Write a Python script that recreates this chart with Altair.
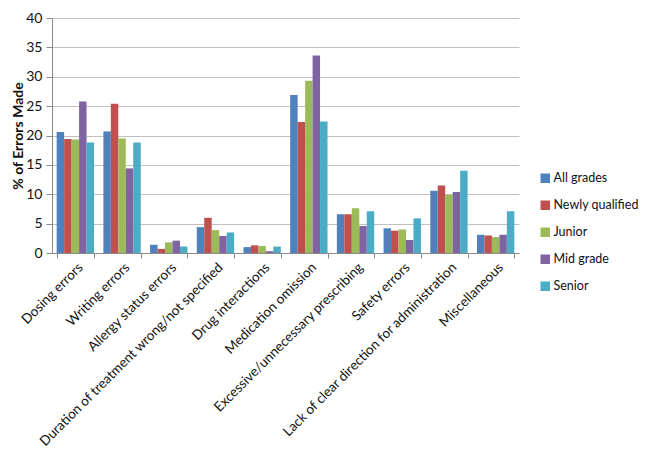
import altair as alt
import pandas as pd

categories = ["Dosing errors", "Writing errors", "Allergy status errors",
              "Duration of treatment wrong/not specified", "Drug interactions",
              "Medication omission", "Excessive/unnecessary prescribing",
              "Safety errors", "Lack of clear direction for administration",
              "Miscellaneous"]
grades = ["All grades", "Newly qualified", "Junior", "Mid grade", "Senior"]
colors = ["#4F81BD", "#C0504D", "#9BBB59", "#8064A2", "#4BACC6"]

all_grades = [20.6, 20.7, 1.4, 4.4, 1.0, 26.9, 6.6, 4.2, 10.6, 3.1]
newly_qualified = [19.4, 25.4, 0.7, 6.0, 1.3, 22.3, 6.6, 3.8, 11.5, 3.0]
junior = [19.3, 19.5, 1.8, 3.9, 1.2, 29.3, 7.6, 4.0, 9.9, 2.7]
mid_grade = [25.8, 14.4, 2.1, 2.9, 0.3, 33.6, 4.6, 2.2, 10.4, 3.1]
senior = [18.8, 18.8, 1.1, 3.5, 1.1, 22.4, 7.1, 5.9, 14.0, 7.1]

series = [all_grades, newly_qualified, junior, mid_grade, senior]
rows = []
for g, vals in zip(grades, series):
    for c, v in zip(categories, vals):
        rows.append({"category": c, "grade": g, "value": v})
df = pd.DataFrame(rows)

chart = alt.Chart(df).mark_bar().encode(
    x=alt.X("category:N", sort=categories, title=None,
            scale=alt.Scale(paddingInner=0.2, paddingOuter=0.1),
            axis=alt.Axis(labelAngle=-45, labelFont="Lato", labelFontSize=13.5,
                          labelColor="#111", tickBand="extent", tickColor="#8a8a8a",
                          domainColor="#8a8a8a", tickSize=5, labelPadding=2,
                          labelLimit=400)),
    xOffset=alt.XOffset("grade:N", sort=grades),
    y=alt.Y("value:Q", title="% of Errors Made",
            scale=alt.Scale(domain=[0, 40]),
            axis=alt.Axis(values=[0, 5, 10, 15, 20, 25, 30, 35, 40],
                          labelFont="Lato", labelFontSize=14, labelColor="#111",
                          labelPadding=4,
                          titleFont="Lato", titleFontSize=14, titleFontWeight="bold",
                          titleColor="#111", gridColor="#c0c0c0", domainColor="#8a8a8a",
                          tickColor="#8a8a8a", tickSize=6, titlePadding=0)),
    color=alt.Color("grade:N", sort=grades, title=None,
                    scale=alt.Scale(domain=grades, range=colors),
                    legend=alt.Legend(orient="none", legendX=487, legendY=154,
                                      symbolType="square", symbolSize=90,
                                      symbolStrokeWidth=0, labelOffset=2,
                                      labelFont="Lato", labelFontSize=12.5,
                                      labelColor="#111", rowPadding=14,
                                      labelLimit=200)),
).properties(
    width=467, height=235,
    autosize=alt.AutoSizeParams(type="none"),
    padding={"left": 44, "top": 10, "right": 123, "bottom": 201},
).configure_view(stroke=None)

chart.save("out.html", embed_options={"renderer": "svg", "actions": False})
